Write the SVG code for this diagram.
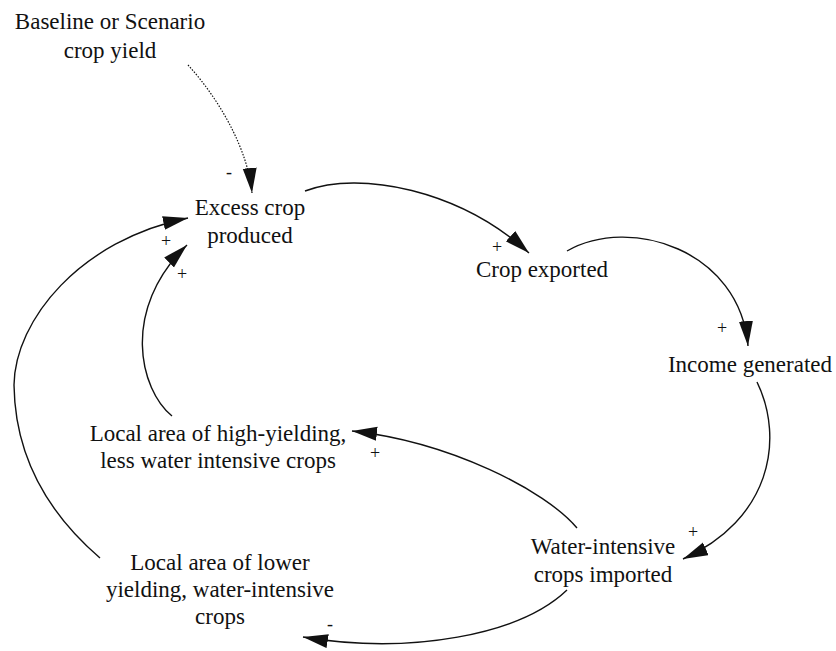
<svg xmlns="http://www.w3.org/2000/svg" width="836" height="651" viewBox="0 0 836 651" font-family="Liberation Serif, Times New Roman, serif">
  <style>
    text { font-family: "Liberation Serif", "Times New Roman", serif; fill: #111; text-anchor: middle; }
    .lbl { font-size: 23px; }
    .sign { font-size: 18px; }
    .link { fill: none; stroke: #111; stroke-width: 1.4; marker-end: url(#head); }
    .dotted { stroke-width: 1.2; stroke-dasharray: 1.5 1.5; }
  </style>
  <defs>
    <marker id="head" markerUnits="userSpaceOnUse" markerWidth="26" markerHeight="16" refX="25" refY="7" orient="auto">
      <path d="M0,0 L25,7 L0,14 Z" fill="#111"/>
    </marker>
  </defs>
  <rect width="836" height="651" fill="#fff"/>

  <!-- causal links -->
  <g id="connectors">
    <path class="link dotted" d="M188,65 C220,100 248,150 252,193"/>
    <path class="link" d="M305,191 C360,170 460,190 529,253"/>
    <path class="link" d="M567,251 C630,215 740,250 748,346"/>
    <path class="link" d="M757,382 C785,440 770,520 683,559"/>
    <path class="link" d="M577,528 C545,490 450,442 352,431"/>
    <path class="link" d="M567,590 C520,635 410,655 303,637"/>
    <path class="link" d="M100,558 C50,515 15,460 14,385 C15,320 80,240 188,218"/>
    <path class="link" d="M172,416 C140,390 120,310 187,245"/>
  </g>

  <!-- polarity signs -->
  <g id="polarities">
    <text class="sign" x="229" y="178">-</text>
    <text class="sign" x="497" y="253">+</text>
    <text class="sign" x="722" y="334">+</text>
    <text class="sign" x="693" y="538">+</text>
    <text class="sign" x="375" y="459">+</text>
    <text class="sign" x="330" y="630">-</text>
    <text class="sign" x="166" y="247">+</text>
    <text class="sign" x="182" y="280">+</text>
  </g>

  <!-- variables -->
  <g id="baseline">
    <text class="lbl" x="110" y="29">Baseline or Scenario</text>
    <text class="lbl" x="110" y="58">crop yield</text>
  </g>
  <g id="excess">
    <text class="lbl" x="250" y="215">Excess crop</text>
    <text class="lbl" x="250" y="243">produced</text>
  </g>
  <g id="exported">
    <text class="lbl" x="542" y="277">Crop exported</text>
  </g>
  <g id="income">
    <text class="lbl" x="750" y="372">Income generated</text>
  </g>
  <g id="imported">
    <text class="lbl" x="603" y="554">Water-intensive</text>
    <text class="lbl" x="603" y="582">crops imported</text>
  </g>
  <g id="highyield">
    <text class="lbl" x="218" y="441">Local area of high-yielding,</text>
    <text class="lbl" x="218" y="468">less water intensive crops</text>
  </g>
  <g id="loweryield">
    <text class="lbl" x="220" y="570">Local area of lower</text>
    <text class="lbl" x="220" y="597">yielding, water-intensive</text>
    <text class="lbl" x="220" y="624">crops</text>
  </g>
</svg>
